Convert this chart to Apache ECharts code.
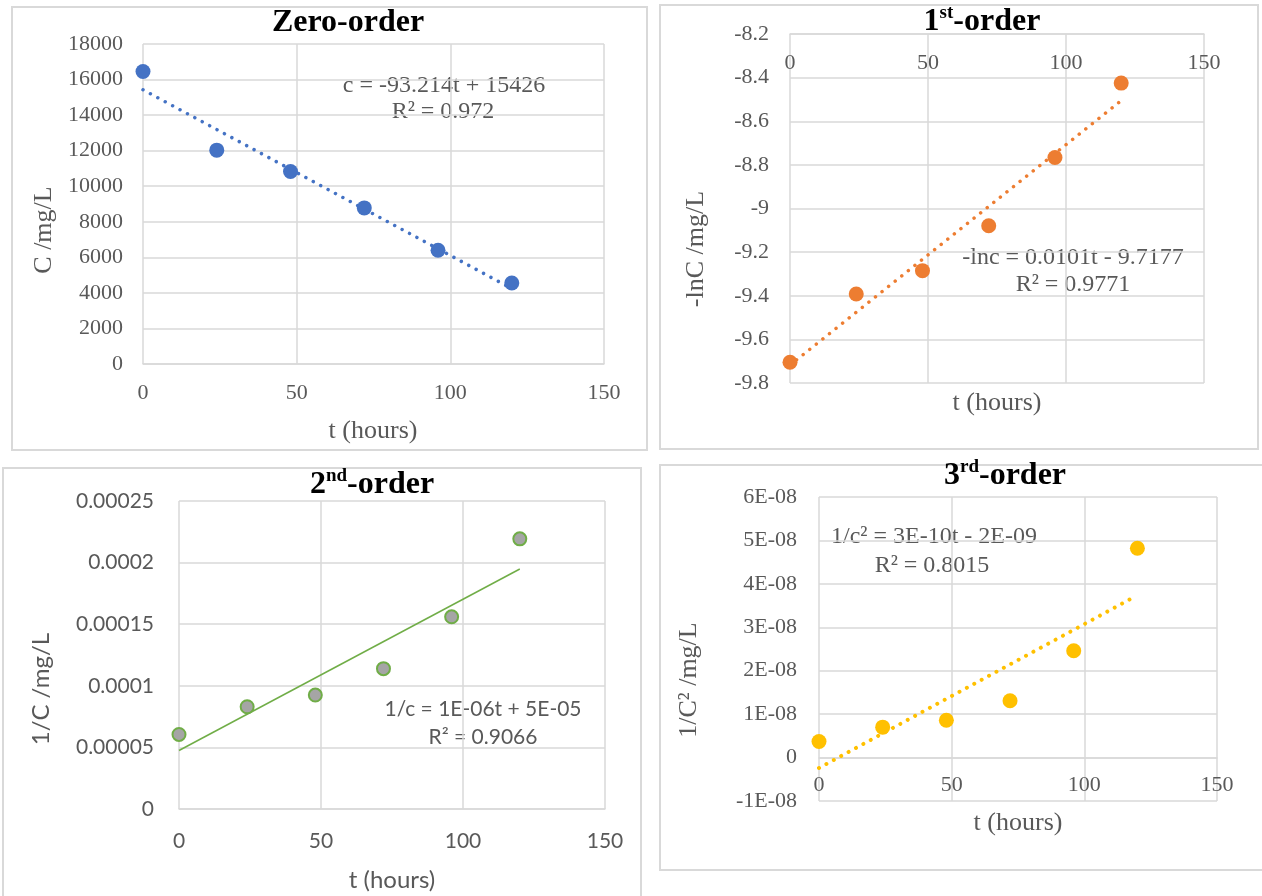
<!DOCTYPE html>
<html>
<head>
<meta charset="utf-8">
<script src="https://cdn.jsdelivr.net/npm/echarts@6/dist/echarts.min.js"></script>
<style>
html,body{margin:0;padding:0;background:#fff;}
#chart{width:1262px;height:896px;}
</style>
</head>
<body>
<div id="chart"></div>
<script>
// ---- data ----
const hours = [0, 24, 48, 72, 96, 120];
const zeroC = [16450, 12030, 10830, 8780, 6400, 4560];
const firstLnC = [-9.705, -9.392, -9.285, -9.079, -8.766, -8.425];
const secondInvC = [6.05e-5, 8.3e-5, 9.25e-5, 1.139e-4, 1.56e-4, 2.193e-4];
const thirdInvC2 = [3.7e-9, 7.0e-9, 8.6e-9, 1.31e-8, 2.46e-8, 4.82e-8];

// trendline end points (t, value)
const zeroFit = [[0, 15426], [120, 4240]];
const firstFit = [[0, -9.7177], [120, -8.5057]];
const secondFit = [[0, 4.75e-5], [120, 1.948e-4]];
const thirdFit = [[0, -2.4e-9], [118, 3.67e-8]];

// tick labels
const xTicks = ['0', '50', '100', '150'];
const zeroTicks = ['0', '2000', '4000', '6000', '8000', '10000', '12000', '14000', '16000', '18000'];
const firstTicks = ['-9.8', '-9.6', '-9.4', '-9.2', '-9', '-8.8', '-8.6', '-8.4', '-8.2'];
const secondTicks = ['0', '0.00005', '0.0001', '0.00015', '0.0002', '0.00025'];
const thirdTicks = ['-1E-08', '0', '1E-08', '2E-08', '3E-08', '4E-08', '5E-08', '6E-08'];

// text
const titles = ['Zero-order', '1', 'st', '-order', '2', 'nd', '-order', '3', 'rd', '-order'];
const equations = ['c = -93.214t + 15426', 'R² = 0.972',
  '-lnc = 0.0101t - 9.7177', 'R² = 0.9771',
  '1/c = 1E-06t + 5E-05', 'R² = 0.9066',
  '1/c² = 3E-10t - 2E-09', 'R² = 0.8015'];
const axisNames = ['t (hours)', 'C /mg/L', '-lnC /mg/L', '1/C /mg/L', '1/C² /mg/L'];

// ---- helpers ----
const SERIF = '"Liberation Serif", "Times New Roman", serif';
const SANS = 'Lato, "Open Sans", sans-serif';
const GRAY = '#595959';
const GRID = '#d9d9d9';
const pairs = (xs, ys) => xs.map((x, i) => [x, ys[i]]);
const fmt = (labels, min, step) => v => {
  const i = Math.round((v - min) / step);
  return labels[i] !== undefined ? labels[i] : '';
};

function xAxisCfg(gridIndex, font, size, margin, extra, labelExtra) {
  return Object.assign({
    gridIndex, type: 'value', min: 0, max: 150, interval: 50,
    axisLine: { show: true, onZero: false, lineStyle: { color: GRID, width: 1.5 } },
    axisTick: { show: false },
    splitLine: { show: true, lineStyle: { color: GRID, width: 1.5 } },
    axisLabel: Object.assign({ fontFamily: font, fontSize: size, color: GRAY, margin, formatter: fmt(xTicks, 0, 50) }, labelExtra || {})
  }, extra || {});
}
function yAxisCfg(gridIndex, min, max, interval, labels, font, size, margin) {
  return {
    gridIndex, type: 'value', min, max, interval,
    axisLine: { show: false, onZero: false }, axisTick: { show: false },
    splitLine: { show: true, lineStyle: { color: GRID, width: 1.5 } },
    axisLabel: { fontFamily: font, fontSize: size, color: GRAY, margin, formatter: fmt(labels, min, interval) }
  };
}
function dotLine(color, width, gap) {
  return { color, width, type: [0.01, gap], cap: 'round' };
}
function txt(x, y, text, font, size, opts) {
  return Object.assign({
    type: 'text', x, y, silent: true,
    style: { text, font: (opts && opts.weight ? opts.weight + ' ' : '') + size + 'px ' + font,
      fill: (opts && opts.fill) || GRAY, align: 'center', verticalAlign: 'middle' }
  }, opts && opts.rotation ? { rotation: opts.rotation } : {});
}
function supTitle(x, y, a, b, c) {
  return {
    type: 'text', x, y, silent: true,
    style: {
      text: '{m|' + a + '}{s|' + b + '}{m|' + c + '}',
      align: 'center', verticalAlign: 'middle',
      rich: {
        m: { fontFamily: SERIF, fontWeight: 'bold', fontSize: 32, fill: '#000', lineHeight: 34, verticalAlign: 'bottom' },
        s: { fontFamily: SERIF, fontWeight: 'bold', fontSize: 19, fill: '#000', lineHeight: 34, verticalAlign: 'top', padding: [0, 0, 16, 0] }
      }
    }
  };
}
const box = (x, y, w, h) => ({ type: 'rect', silent: true, shape: { x, y, width: w, height: h },
  style: { fill: 'none', stroke: GRID, lineWidth: 2 } });
const R90 = Math.PI / 2;

const chart = echarts.init(document.getElementById('chart'), null, { renderer: 'canvas' });
chart.setOption({
  animation: false,
  backgroundColor: '#fff',
  grid: [
    { left: 143, top: 44, width: 461, height: 320 },
    { left: 790, top: 34, width: 414, height: 349 },
    { left: 179, top: 501, width: 426, height: 308 },
    { left: 819, top: 497, width: 398, height: 304 }
  ],
  xAxis: [
    xAxisCfg(0, SERIF, 22, 18),
    xAxisCfg(1, SERIF, 22, 18, { position: 'top' }, { inside: true }),
    xAxisCfg(2, SANS, 21, 22),
    // x axis crosses the value axis at zero (1/7 of the plot height above the bottom)
    xAxisCfg(3, SERIF, 22, 17, { offset: -304 / 7 })
  ],
  yAxis: [
    yAxisCfg(0, 0, 18000, 2000, zeroTicks, SERIF, 22, 20),
    yAxisCfg(1, -9.8, -8.2, 0.2, firstTicks, SERIF, 22, 21),
    yAxisCfg(2, 0, 0.00025, 0.00005, secondTicks, SANS, 21, 25),
    yAxisCfg(3, -1e-8, 6e-8, 1e-8, thirdTicks, SERIF, 22, 22)
  ],
  series: [
    { type: 'line', xAxisIndex: 0, yAxisIndex: 0, data: zeroFit, symbol: 'none', lineStyle: dotLine('#4472C4', 3.5, 8.4), z: 2 },
    { type: 'scatter', xAxisIndex: 0, yAxisIndex: 0, data: pairs(hours, zeroC), symbolSize: 15, itemStyle: { color: '#4472C4', opacity: 1 }, z: 3 },
    { type: 'line', xAxisIndex: 1, yAxisIndex: 1, data: firstFit, symbol: 'none', lineStyle: dotLine('#ED7D31', 3.5, 8.4), z: 2 },
    { type: 'scatter', xAxisIndex: 1, yAxisIndex: 1, data: pairs(hours, firstLnC), symbolSize: 15, itemStyle: { color: '#ED7D31', opacity: 1 }, z: 3 },
    { type: 'line', xAxisIndex: 2, yAxisIndex: 2, data: secondFit, symbol: 'none', lineStyle: { color: '#70AD47', width: 1.5 }, z: 2 },
    { type: 'scatter', xAxisIndex: 2, yAxisIndex: 2, data: pairs(hours, secondInvC), symbolSize: 13, itemStyle: { color: '#A5A5A5', borderColor: '#70AD47', borderWidth: 2, opacity: 1 }, z: 3 },
    { type: 'line', xAxisIndex: 3, yAxisIndex: 3, data: thirdFit, symbol: 'none', lineStyle: dotLine('#FFC000', 4, 8.4), z: 2 },
    { type: 'scatter', xAxisIndex: 3, yAxisIndex: 3, data: pairs(hours, thirdInvC2), symbolSize: 15, itemStyle: { color: '#FFC000', opacity: 1 }, z: 3 }
  ],
  graphic: [
    box(12, 7, 635, 443),
    box(660, 5, 598, 444),
    box(3, 468, 638, 440),
    box(660, 465, 610, 405),
    // titles
    txt(348, 23, titles[0], SERIF, 32, { weight: 'bold', fill: '#000' }),
    supTitle(982, 21, titles[1], titles[2], titles[3]),
    supTitle(372, 484, titles[4], titles[5], titles[6]),
    supTitle(1005, 475, titles[7], titles[8], titles[9]),
    // equations
    txt(444, 86, equations[0], SERIF, 24),
    txt(443, 112, equations[1], SERIF, 24),
    txt(1073, 258, equations[2], SERIF, 24),
    txt(1073, 285, equations[3], SERIF, 24),
    txt(483, 709, equations[4], SANS, 21),
    txt(483, 737, equations[5], SANS, 21),
    txt(934, 537, equations[6], SERIF, 24),
    txt(932, 566, equations[7], SERIF, 24),
    // axis names
    txt(373, 431, axisNames[0], SERIF, 26),
    txt(44, 230, axisNames[1], SERIF, 26, { rotation: R90 }),
    txt(997, 403, axisNames[0], SERIF, 26),
    txt(696, 249, axisNames[2], SERIF, 26, { rotation: R90 }),
    txt(392, 880, axisNames[0], SANS, 24),
    txt(41, 689, axisNames[3], SANS, 24, { rotation: R90 }),
    txt(1018, 823, axisNames[0], SERIF, 26),
    txt(689, 680, axisNames[4], SERIF, 26, { rotation: R90 })
  ]
});
</script>
</body>
</html>
